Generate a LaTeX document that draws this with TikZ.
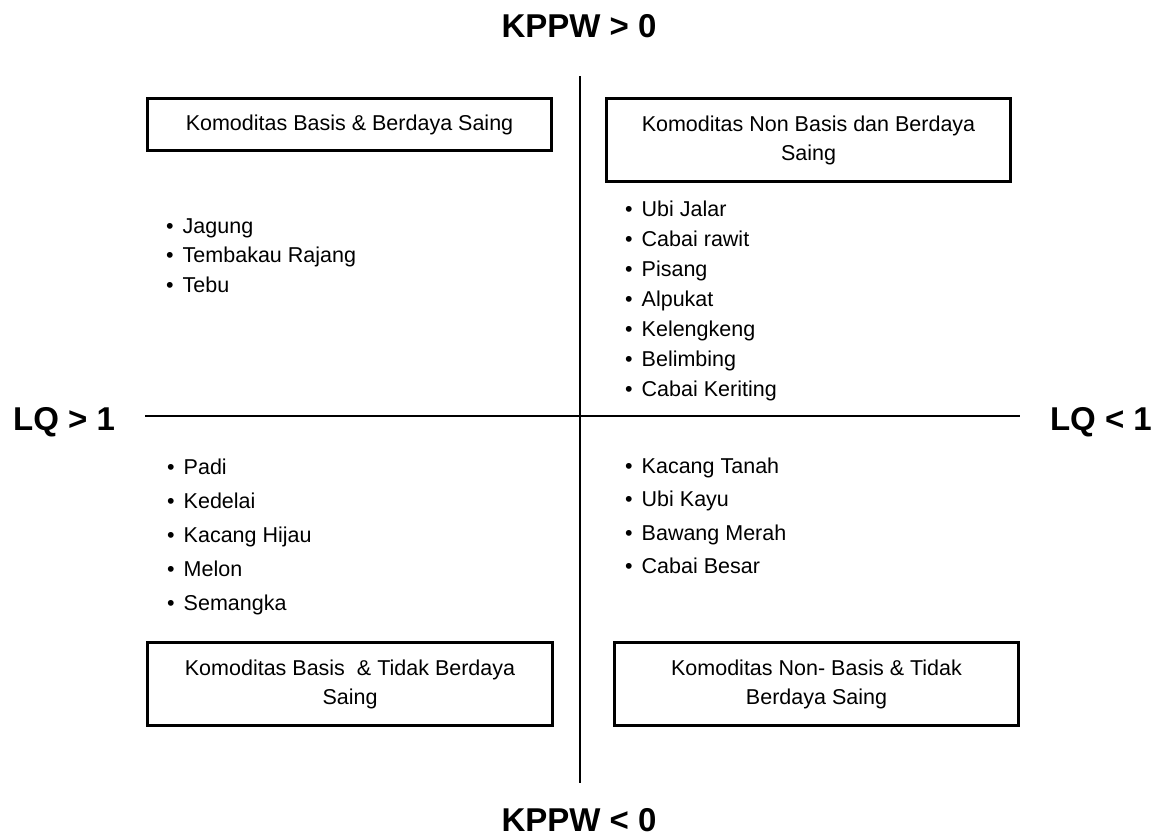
\documentclass[tikz,border=0pt]{standalone}
\usepackage{fontspec}
\setmainfont{Liberation Sans}
\usepackage{tikz}
\tikzset{
	box/.style={draw, line width=3pt, inner sep=0pt, align=center, font=\fontsize{21.5}{29}\selectfont},
	item/.style={anchor=base west, inner sep=0pt, font=\fontsize{21.5}{26}\selectfont},
	heading/.style={inner sep=0pt, font=\fontsize{33}{40}\selectfont\bfseries}
}

\begin{document}
\begin{tikzpicture}[x=1pt,y=-1pt]
			\useasboundingbox (0,0) rectangle (1160,838);
			
			\coordinate (top) at (580,76);
			\coordinate (bottom) at (580,783);
			\coordinate (left) at (145,416);
			\coordinate (right) at (1020,416);
			\draw[line width=2pt] (top) -- (bottom);
			\draw[line width=2pt] (left) -- (right);
			
			\node[heading, anchor=base] (kppwplus) at (579,37) {KPPW > 0};
			\node[heading, anchor=base] (kppwminus) at (579,831) {KPPW < 0};
			\node[heading, anchor=base west] (lqplus) at (13,430) {LQ > 1};
			\node[heading, anchor=base east] (lqminus) at (1152,430) {LQ < 1};
			
			\node[box, minimum width=404pt, minimum height=52pt] (basis) at (349.5,124.5) {Komoditas Basis \& Berdaya Saing};
			\node[box, minimum width=404pt, minimum height=83pt] (nonbasis) at (808.5,140) {Komoditas Non Basis dan Berdaya\\Saing};
			\node[box, minimum width=405pt, minimum height=83pt] (basistidak) at (350,684) {Komoditas Basis\ \ \& Tidak Berdaya\\Saing};
			\node[box, minimum width=404pt, minimum height=83pt] (nonbasistidak) at (816.5,684) {Komoditas Non- Basis \& Tidak\\Berdaya Saing};
			
			\foreach \nama [count=\i] in {Jagung, Tembakau Rajang, Tebu}
				\node[item] (tl\i) at (166,{233+29.5*(\i-1)}) {\textbullet\hspace{9pt}\nama};
			\foreach \nama [count=\i] in {Ubi Jalar, Cabai rawit, Pisang, Alpukat, Kelengkeng, Belimbing, Cabai Keriting}
				\node[item] (tr\i) at (625,{216+30*(\i-1)}) {\textbullet\hspace{9pt}\nama};
			\foreach \nama [count=\i] in {Padi, Kedelai, Kacang Hijau, Melon, Semangka}
				\node[item] (bl\i) at (167,{474+34*(\i-1)}) {\textbullet\hspace{9pt}\nama};
			\foreach \nama [count=\i] in {Kacang Tanah, Ubi Kayu, Bawang Merah, Cabai Besar}
				\node[item] (br\i) at (625,{473+33.5*(\i-1)}) {\textbullet\hspace{9pt}\nama};
			
		\end{tikzpicture}
\end{document}
